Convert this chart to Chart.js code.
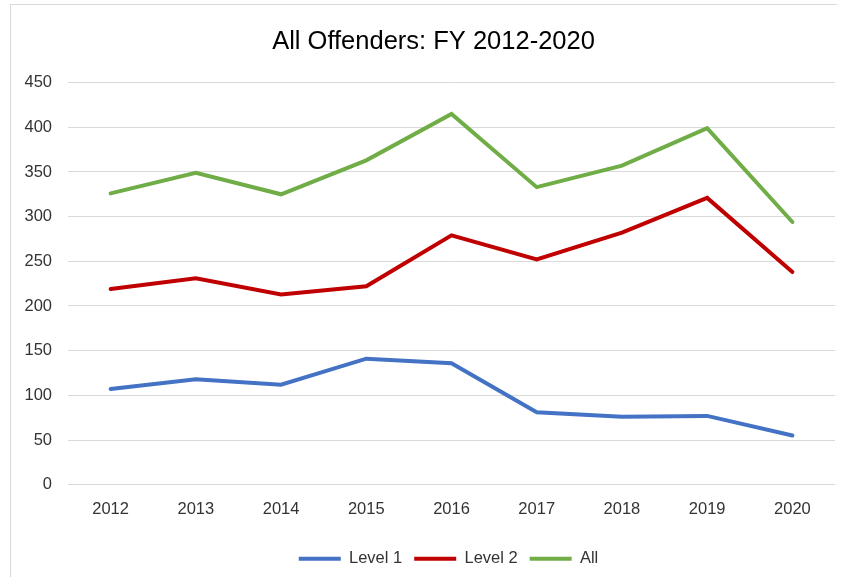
<!DOCTYPE html>
<html lang="en">
<head>
    <meta charset="UTF-8">
    <title>All Offenders: FY 2012-2020</title>
    <script src="https://cdn.jsdelivr.net/npm/chart.js"></script>
    <style>
        html, body {
            margin: 0;
            padding: 0;
            background: #ffffff;
            overflow: hidden;
        }
        #wrap {
            position: relative;
            width: 846px;
            height: 577px;
        }
        #frame {
            position: absolute;
            left: 10px;
            top: 4px;
            width: 826px;
            height: 600px;
            border-left: 1px solid #d9d9d9;
            border-top: 1px solid #d9d9d9;
            pointer-events: none;
        }
        canvas {
            position: absolute;
            left: 0;
            top: 0;
        }
    </style>
</head>
<body>
    <div id="wrap">
        <canvas id="chart" width="846" height="577"></canvas>
        <div id="frame"></div>
    </div>

    <script>
        // datos
        const years = ['2012', '2013', '2014', '2015', '2016', '2017', '2018', '2019', '2020'];
        const level1 = [107, 118, 112, 141, 136, 81, 76, 77, 55];
        const level2 = [219, 231, 213, 222, 279, 252, 282, 321, 238];
        const allOffenders = [326, 349, 325, 363, 415, 333, 357, 399, 294];
        const yTicks = [0, 50, 100, 150, 200, 250, 300, 350, 400, 450];

        const font = "'Liberation Sans', Arial, sans-serif";
        const textColor = '#333333';
        const gridColor = '#d9d9d9';

        function serie(label, data, color) {
            return {
                label: label,
                data: data,
                borderColor: color,
                backgroundColor: color,
                borderWidth: 4,
                borderCapStyle: 'round',
                borderJoinStyle: 'miter',
                pointRadius: 0,
                pointHoverRadius: 0,
                tension: 0,
                fill: false
            };
        }

        // corre titulo y leyenda un poco a la derecha, como en el original
        const shiftBoxes = {
            id: 'shiftBoxes',
            afterLayout(chart) {
                chart.titleBlock.left += 8;
                chart.titleBlock.right += 8;
                chart.legend.left += 23;
                chart.legend.right += 23;
            }
        };

        const ctx = document.getElementById('chart').getContext('2d');
        new Chart(ctx, {
            type: 'line',
            data: {
                labels: years,
                datasets: [
                    serie('Level 1', level1, '#4472C4'),
                    serie('Level 2', level2, '#C00000'),
                    serie('All', allOffenders, '#70AD47')
                ]
            },
            plugins: [shiftBoxes],
            options: {
                responsive: false,
                animation: false,
                layout: {
                    padding: { left: 16, right: 11, top: 0, bottom: 0 }
                },
                scales: {
                    x: {
                        offset: true,
                        grid: { display: false, drawTicks: false },
                        border: { display: false },
                        afterFit: (axis) => { axis.height += 4; },
                        ticks: {
                            padding: 15,
                            color: textColor,
                            font: { family: font, size: 16.5 }
                        }
                    },
                    y: {
                        min: 0,
                        max: 450,
                        afterBuildTicks: (axis) => {
                            axis.ticks = yTicks.map(v => ({ value: v }));
                        },
                        afterFit: (axis) => { axis.width = 52; },
                        grid: { color: gridColor, lineWidth: 1, drawTicks: false },
                        border: { display: false },
                        ticks: {
                            padding: 16,
                            color: textColor,
                            font: { family: font, size: 16.5 }
                        }
                    }
                },
                plugins: {
                    title: {
                        display: true,
                        text: 'All Offenders: FY 2012-2020',
                        color: '#000000',
                        font: { family: font, size: 25.5, weight: 'normal' },
                        padding: { top: 27, bottom: 25 }
                    },
                    legend: {
                        position: 'bottom',
                        labels: {
                            usePointStyle: true,
                            pointStyle: 'line',
                            pointStyleWidth: 42,
                            boxHeight: 4,
                            padding: 12,
                            color: textColor,
                            font: { family: font, size: 16.5 }
                        }
                    },
                    tooltip: { enabled: false }
                }
            }
        });
    </script>
</body>
</html>
